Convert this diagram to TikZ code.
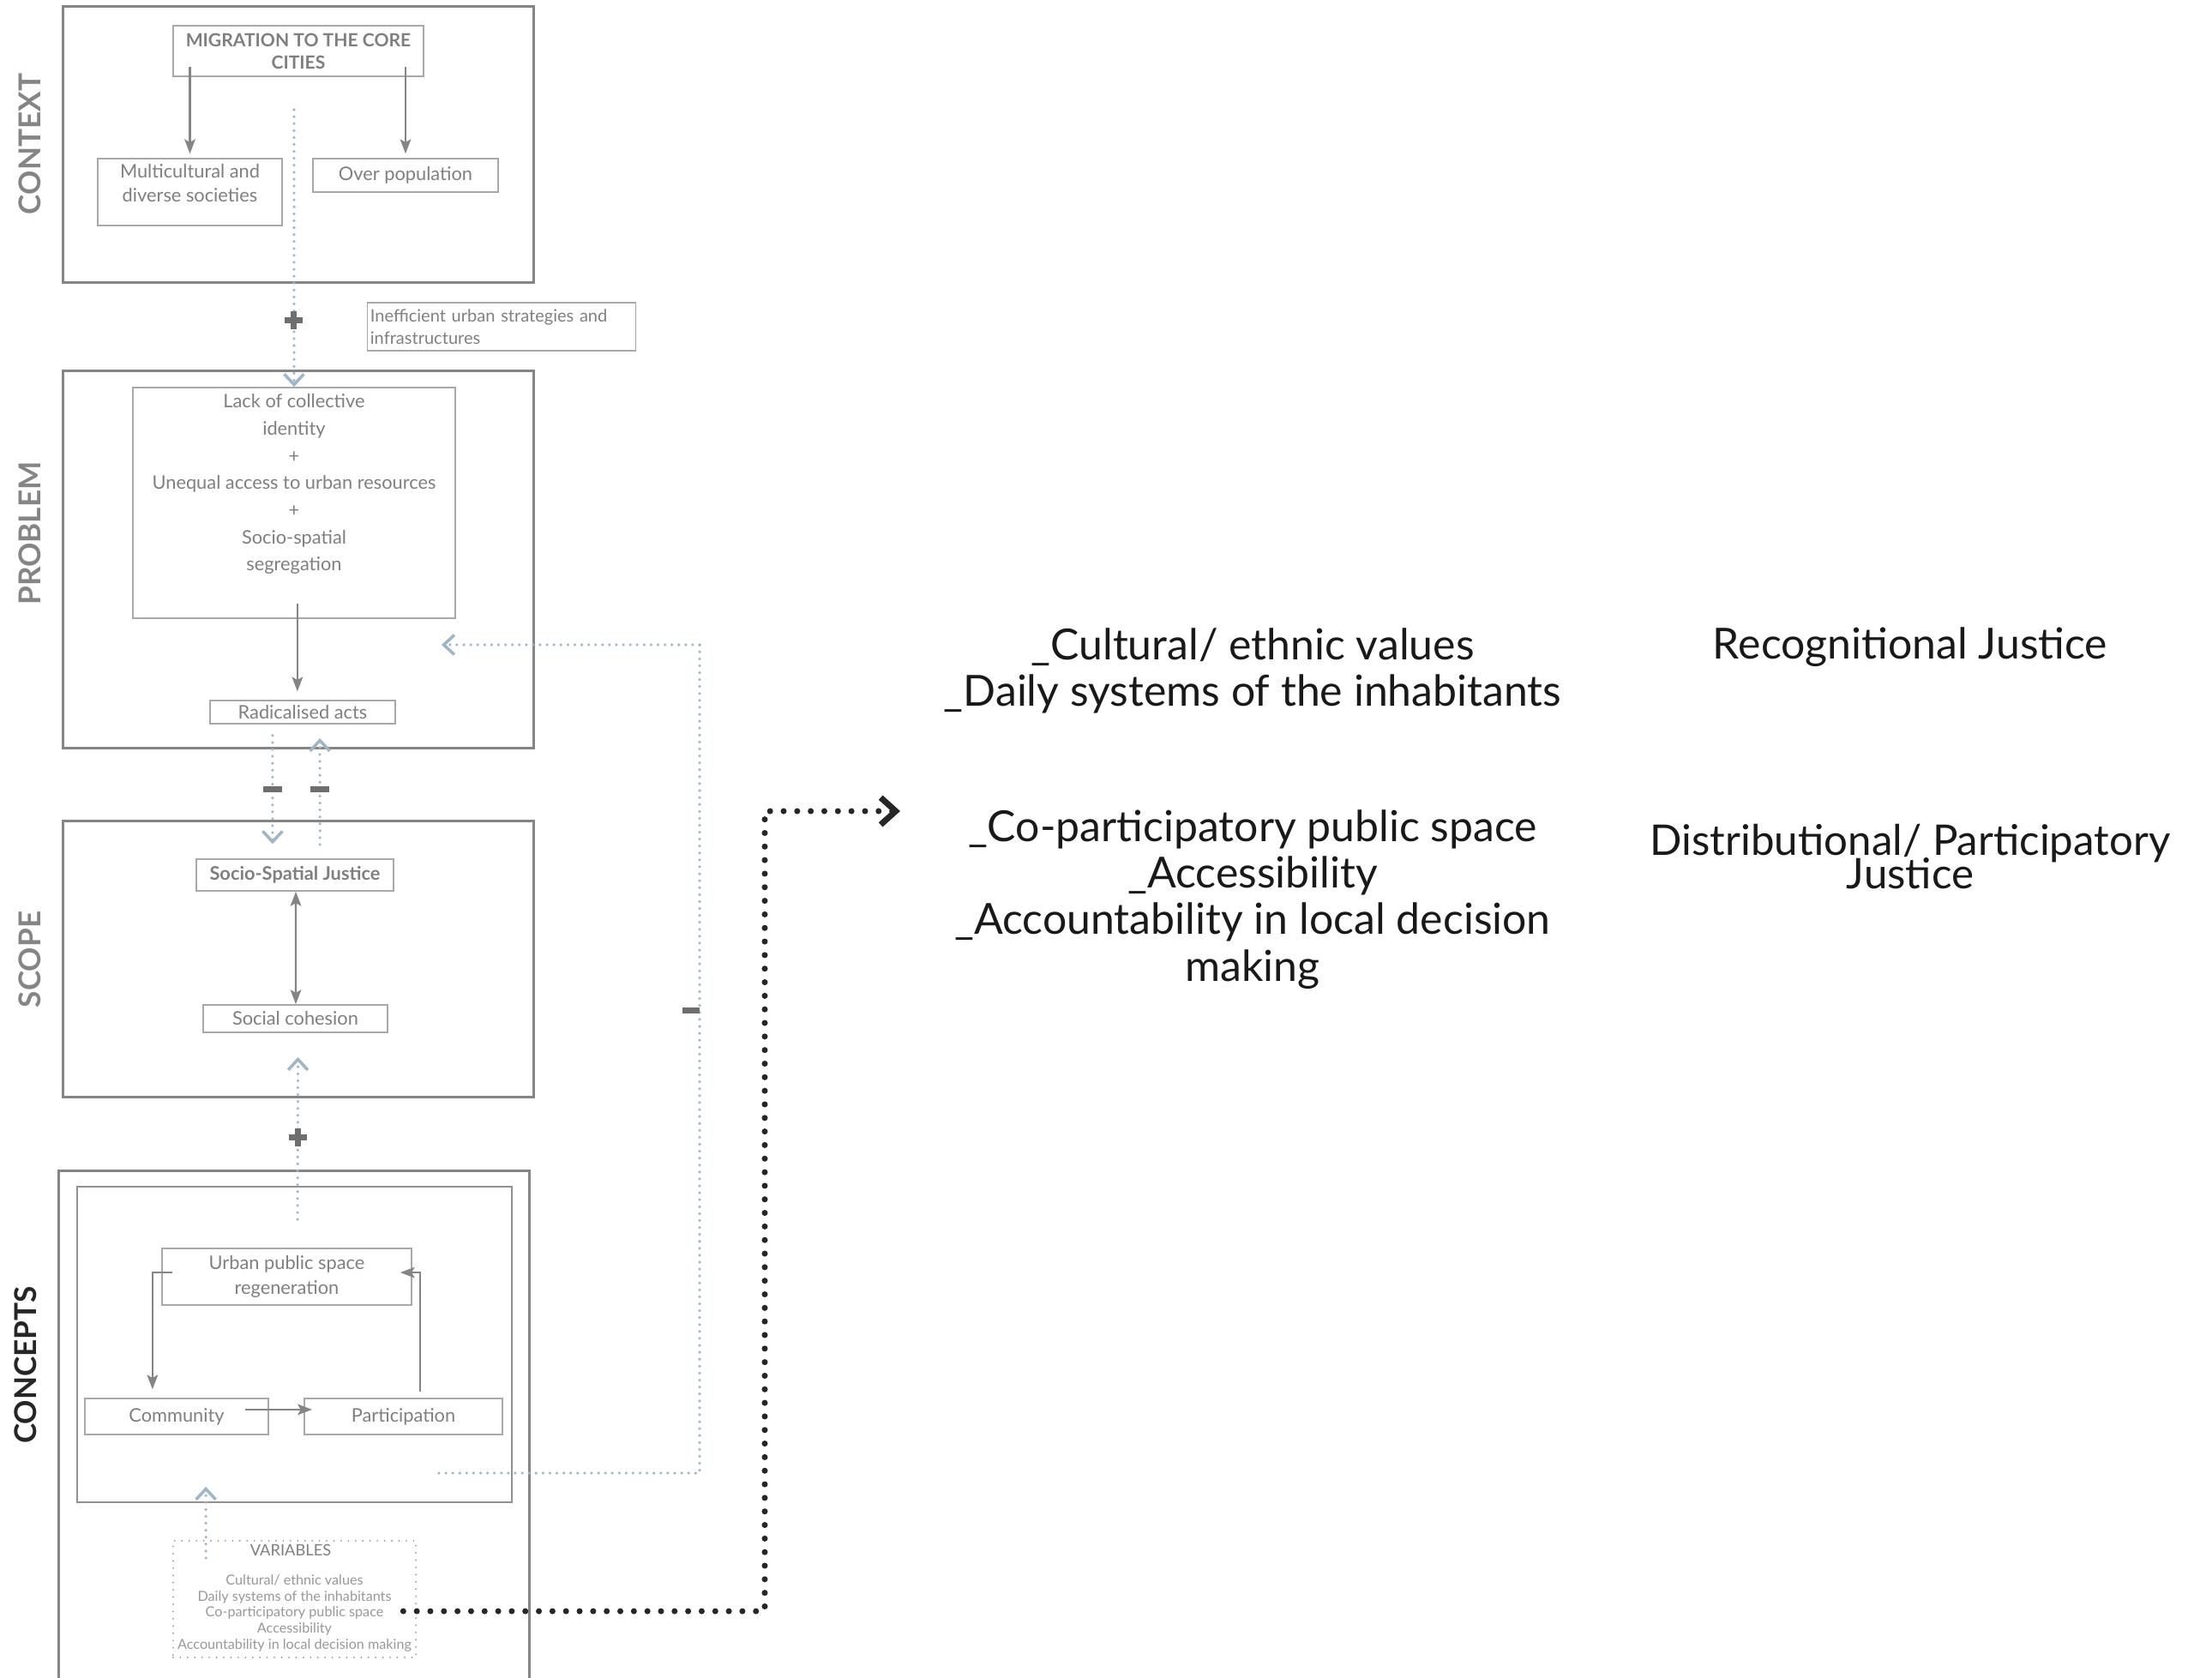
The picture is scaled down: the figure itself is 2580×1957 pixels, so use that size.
\documentclass[tikz,border=0pt]{standalone}
\usepackage{fontspec}
\setmainfont{Lato}
\usetikzlibrary{arrows.meta,calc}
\definecolor{framegrey}{HTML}{858585}
\definecolor{boxgrey}{HTML}{A8A8A8}
\definecolor{textgrey}{HTML}{7F7F7F}
\definecolor{linkblue}{HTML}{9DB6C8}
\definecolor{markgrey}{HTML}{6E6E6E}
\newcommand{\tightlines}{\lineskiplimit=-20pt\relax}
\tikzset{
  stagebox/.style={draw=framegrey, line width=0.9pt, inner sep=0pt},
  thinbox/.style={draw=boxgrey, line width=0.45pt, inner sep=0pt},
  boxtext/.style={text=textgrey, font=\fontsize{6.2}{8}\selectfont, align=center, inner sep=0pt},
  stagelabel/.style={rotate=90, font=\fontsize{10}{12}\selectfont\bfseries, text=framegrey},
  flowarrow/.style={draw=framegrey, line width=0.6pt, -{Stealth[length=4.8pt,width=3.6pt,inset=1pt]}},
  bluelink/.style={draw=linkblue, line width=1pt, line cap=round, dash pattern=on 0pt off 2.3pt,
    -{Straight Barb[length=3.5pt,width=6.5pt,line width=1pt]}},
  bluetrail/.style={draw=linkblue, line width=1pt, line cap=round, dash pattern=on 0pt off 2.3pt},
  blackdots/.style={draw=black!85, line width=2pt, line cap=round, dash pattern=on 0pt off 4.5pt,
    -{Straight Barb[length=5pt,width=9pt,line width=2pt]}},
  markfill/.style={fill=markgrey},
  bigtext/.style={font=\fontsize{14.2}{15.4}\selectfont, text=black!90, align=center, inner sep=0pt}
}
\begin{document}
\begin{tikzpicture}[x={(0.01cm,0)}, y={(0,-0.01cm)}]
\clip (0,0) rectangle (2580,1957);
% Stage frames
\node[stagebox, minimum width=5.48cm, minimum height=3.21cm] (contextframe) at (348,168.5) {};
\node[stagebox, minimum width=5.48cm, minimum height=4.39cm] (problemframe) at (348,652.5) {};
\node[stagebox, minimum width=5.48cm, minimum height=3.21cm] (scopeframe) at (348,1118.5) {};
\node[stagebox, minimum width=5.48cm, minimum height=6.30cm] (conceptframe) at (343,1681) {};
\node[thinbox, draw=framegrey!90, minimum width=5.07cm, minimum height=3.68cm] (conceptinner) at (343.5,1568) {};
% Stage labels
\node[stagelabel] (contextlabel) at (35,168) {CONTEXT};
\node[stagelabel] (problemlabel) at (35,622) {PROBLEM};
\node[stagelabel] (scopelabel) at (35,1119) {SCOPE};
\node[stagelabel, text=black!85] (conceptlabel) at (30,1592) {CONCEPTS};
%
% Context
\node[thinbox, boxtext, font=\fontsize{6}{7.4}\selectfont\bfseries, minimum width=2.92cm, minimum height=0.59cm] (migr) at (348,59.5) {MIGRATION TO THE CORE\\CITIES};
\node[thinbox, minimum width=2.15cm, minimum height=0.78cm] (multi) at (221.5,224) {};
\node[boxtext, anchor=north] (multitext) at (221.5,191) {Multicultural and\\diverse societies};
\node[thinbox, boxtext, minimum width=2.16cm, minimum height=0.39cm] (overpop) at (473,204.5) {Over population};
\node[thinbox, boxtext, font=\fontsize{5.7}{7.4}\selectfont, align=left, text width=3.06cm, inner xsep=1pt, minimum height=0.56cm] (ineff) at (585,381) {Inefficient urban strategies and\\infrastructures};
\draw[flowarrow, shorten >=1.4pt] ([yshift=3.4pt]migr.south -| multi.north) -- (multi.north);
\draw[flowarrow, shorten >=1.4pt] ([yshift=3.4pt]migr.south -| overpop.north) -- (overpop.north);
%
% Problem
\node[thinbox, minimum width=3.76cm, minimum height=2.69cm] (lack) at (343,586.5) {};
\node[boxtext, font=\fontsize{6.2}{9}\selectfont, anchor=north] (lacktext) at (343,459) {Lack of collective\\identity\\+\\Unequal access to urban resources\\+\\Socio-spatial\\segregation};
\node[thinbox, boxtext, minimum width=2.16cm, minimum height=0.27cm] (radical) at (353,830.5) {Radicalised acts};
\draw[flowarrow, shorten >=2.8pt] ([xshift=1.1pt,yshift=5pt]lack.south) -- ([xshift=1.1pt]lack.south |- radical.north);
%
% Scope
\node[thinbox, boxtext, font=\fontsize{6.2}{8}\selectfont\bfseries, minimum width=2.30cm, minimum height=0.37cm] (ssj) at (344,1020.5) {Socio-Spatial Justice};
\node[thinbox, boxtext, minimum width=2.15cm, minimum height=0.32cm] (cohesion) at (344.5,1188) {Social cohesion};
\draw[flowarrow, {Stealth[length=4.8pt,width=3.6pt,inset=1pt]}-{Stealth[length=4.8pt,width=3.6pt,inset=1pt]}] ([xshift=0.3pt]ssj.south) -- ([xshift=0.15pt]cohesion.north);
%
% Concepts
\node[thinbox, boxtext, font=\fontsize{6.2}{8}\selectfont, minimum width=2.91cm, minimum height=0.66cm] (urban) at (334.5,1489) {Urban public space\\regeneration};
\node[thinbox, boxtext, minimum width=2.14cm, minimum height=0.42cm] (community) at (206,1652) {Community};
\node[thinbox, boxtext, minimum width=2.31cm, minimum height=0.42cm] (particip) at (470.5,1652) {Participation};
\draw[flowarrow] ([xshift=3.7pt,yshift=1.4pt]urban.west) -| ([xshift=-8pt,yshift=2.8pt]community.north);
\draw[flowarrow] ([xshift=-8pt,yshift=2.3pt]community.east) -- ([xshift=2.8pt,yshift=2.3pt]particip.west);
\draw[flowarrow] ([xshift=5.5pt,yshift=2pt]particip.north) |- ([xshift=-4pt,yshift=1.4pt]urban.east);
\node[draw=framegrey!80, line width=0.6pt, line cap=round, dash pattern=on 0pt off 2.4pt, minimum width=2.83cm, minimum height=1.36cm] (variables) at (343.5,1865) {};
\node[boxtext, font=\fontsize{5.2}{6}\selectfont, anchor=north] (varhead) at (339,1801) {VARIABLES};
\node[boxtext, font=\fontsize{4.6}{5.3}\selectfont, text=textgrey!80, anchor=north] (varlist) at (343.5,1836) {Cultural/ ethnic values\\Daily systems of the inhabitants\\Co-participatory public space\\Accessibility\\Accountability in local decision making};
%
% Blue feedback links
\coordinate (ctxsrc) at (343,128);
\draw[bluelink] (ctxsrc) -- (lack.north);
\draw[bluelink, shorten <=3.7pt, shorten >=4.8pt] ([xshift=-10pt]radical.south) -- ([xshift=-7.4pt]ssj.north);
\draw[bluelink, shorten <=4.6pt, shorten >=4.6pt] ([xshift=8.3pt]ssj.north) -- ([xshift=5.7pt]radical.south);
\draw[bluelink, shorten >=8pt] ([xshift=1pt,yshift=-11.1pt]conceptinner.north) -- ([xshift=0.9pt]cohesion.south);
\draw[bluelink] ([xshift=-29.4pt,yshift=-6pt]variables.north) -- ([xshift=-29.4pt,yshift=5.4pt]conceptinner.south);
\coordinate (fbsrc) at (512,1718);
\coordinate (fbtip) at (515,752);
\draw[bluetrail] (fbsrc) -- (816,1718) -- (816,752);
\draw[bluelink] (816,752) -- (fbtip);
% Plus and minus marks
\fill[markfill] (331.5,369.5) rectangle (352.5,376.5);
\fill[markfill] (338.5,362.5) rectangle (345.5,383.5);
\fill[markfill] (336.5,1322.5) rectangle (357.5,1329.5);
\fill[markfill] (343.5,1315.5) rectangle (350.5,1336.5);
\fill[markfill] (307,916.5) rectangle (329,923.5);
\fill[markfill] (362,916.5) rectangle (384,923.5);
\fill[markfill] (796,1174.5) rectangle (816,1181.5);
%
% Justice dimensions
\coordinate (justicetip) at (1050,946);
\draw[blackdots] ([xshift=-4.5pt,yshift=-4pt]variables.east) -| (892,946) -- (justicetip);
\node[bigtext] (recogvalues) at (1461,782) {\_Cultural/ ethnic values\\\_Daily systems of the inhabitants};
\node[bigtext] (recog) at (2228,755) {Recognitional Justice};
\node[bigtext] (distribvalues) at (1461,1049) {\_Co-participatory public space\\\_Accessibility\\\_Accountability in local decision\\making};
\node[bigtext, font=\fontsize{14}{11}\selectfont\tightlines] (distrib) at (2228,999) {Distributional/ Participatory\\Justice};
\end{tikzpicture}
\end{document}
